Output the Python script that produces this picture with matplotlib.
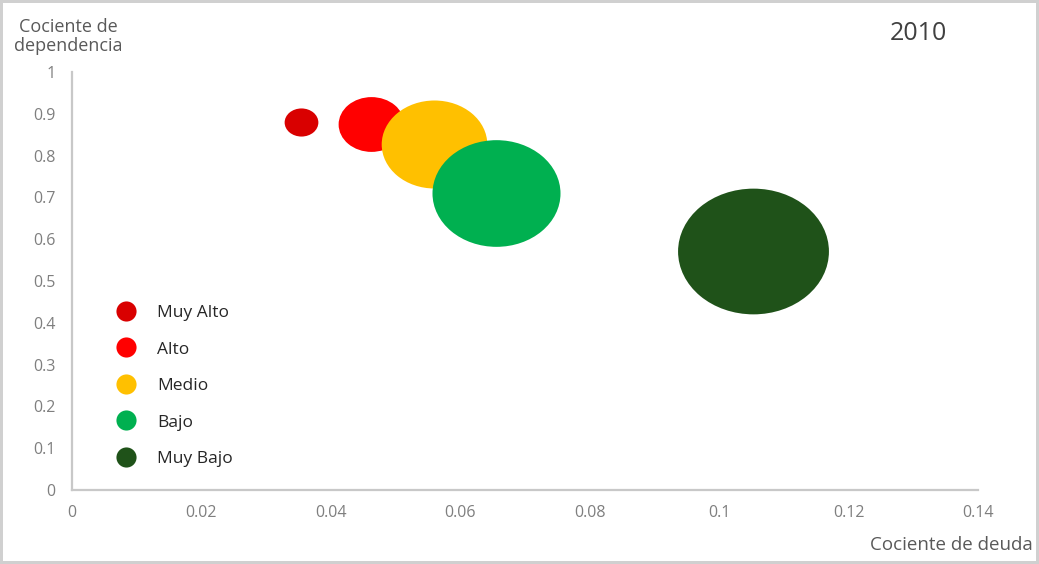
import matplotlib
matplotlib.use('Agg')
import matplotlib.pyplot as plt
from matplotlib.path import Path
from matplotlib.transforms import Affine2D
from matplotlib.markers import MarkerStyle
from matplotlib.lines import Line2D

plt.rcParams['font.family'] = ['Open Sans', 'DejaVu Sans']

# categories and values (2010)
categorias = ['Muy Alto', 'Alto', 'Medio', 'Bajo', 'Muy Bajo']
cociente_deuda = [0.0354, 0.0462, 0.0560, 0.0655, 0.1052]
cociente_dependencia = [0.881, 0.875, 0.828, 0.710, 0.572]
tamano_relativo = [0.05, 0.19, 0.49, 0.72, 1.0]
colores = ['#d90000', '#ff0000', '#ffc000', '#00b050', '#1f5219']

xticks = [0, 0.02, 0.04, 0.06, 0.08, 0.1, 0.12, 0.14]
yticks = [0, 0.1, 0.2, 0.3, 0.4, 0.5, 0.6, 0.7, 0.8, 0.9, 1]

fig = plt.figure(figsize=(10.39, 5.64), dpi=100)
fig.patch.set_edgecolor('#d0d0d0')
fig.patch.set_linewidth(3)
ax = fig.add_axes([0.0693, 0.1312, 0.8720, 0.7411])

# the original picture is stretched, bubbles come out as ellipses
elipse = MarkerStyle(Path.unit_circle().transformed(Affine2D().scale(1.2, 1.0)))
area_max = 11800
for x, y, t, c in zip(cociente_deuda, cociente_dependencia, tamano_relativo, colores):
    ax.scatter(x, y, s=t * area_max, marker=elipse, color=c, linewidths=0, zorder=3)

ax.set_xlim(0, 0.14)
ax.set_ylim(0, 1)
ax.set_xticks(xticks)
ax.set_xticklabels([f'{v:g}' for v in xticks])
ax.set_yticks(yticks)
ax.set_yticklabels([f'{v:g}' for v in yticks])
ax.tick_params(length=0, labelsize=11.5, colors='#7f7f7f')
ax.tick_params(axis='y', pad=12)
ax.tick_params(axis='x', pad=11)
for s in ['top', 'right']:
    ax.spines[s].set_visible(False)
for s in ['left', 'bottom']:
    ax.spines[s].set_color('#c8c8c8')
    ax.spines[s].set_linewidth(1.6)

fig.text(0.066, 0.935, 'Cociente de\ndependencia', ha='center', va='center',
         fontsize=13, color='#595959', linespacing=1.1)
fig.text(0.994, 0.033, 'Cociente de deuda', ha='right', va='center',
         fontsize=13.5, color='#595959')
fig.text(0.884, 0.941, '2010', ha='center', va='center', fontsize=18, color='#404040')

handles = [Line2D([], [], linestyle='none', marker='o', markersize=14.5,
                  markerfacecolor=c, markeredgewidth=0) for c in colores]
ax.legend(handles, categorias, loc='upper left', bbox_to_anchor=(0.090, 0.487),
          bbox_transform=fig.transFigure, frameon=False, fontsize=12.5,
          labelspacing=1.17, handletextpad=0.75, labelcolor='#262626')

fig.savefig('out.png', dpi=100, edgecolor=fig.get_edgecolor(), facecolor='white')
